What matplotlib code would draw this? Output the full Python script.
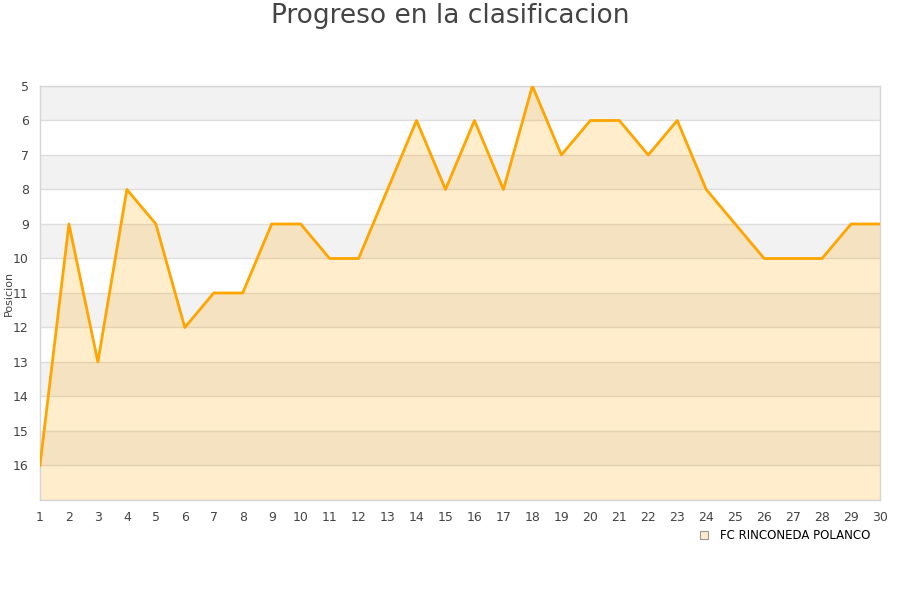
import matplotlib
matplotlib.use('Agg')
import matplotlib.pyplot as plt
from matplotlib.lines import Line2D

######################## DATA ########################
jornadas = list(range(1, 31))
posicion = [16, 9, 13, 8, 9, 12, 11, 11, 9, 9, 10, 10, 8, 6, 8,
            6, 8, 5, 7, 6, 6, 7, 6, 8, 9, 10, 10, 10, 9, 9]
equipo = 'FC RINCONEDA POLANCO'
titulo = 'Progreso en la clasificacion'
y_ticks = list(range(5, 17))

######################## CHART ########################
fig = plt.figure(figsize=(9, 6), dpi=100)
ax = fig.add_axes([0.0444, 0.1667, 0.9334, 0.69])

ymin, ymax = 5, 17
# alternating bands
for k in range(ymin, ymax, 2):
    ax.axhspan(k, k + 1, color='#f2f2f2', zorder=0, lw=0)
for k in range(ymin, ymax + 1):
    ax.axhline(k, color='#dddddd', lw=1, zorder=1)

ax.fill_between(jornadas, posicion, ymax, color='#FFA500', alpha=0.2, lw=0, zorder=2)
ax.plot(jornadas, posicion, color='#FFA500', lw=2, zorder=3)

ax.set_xlim(1, 30)
ax.set_ylim(ymax, ymin)
ax.set_xticks(jornadas)
ax.set_yticks(y_ticks)
ax.tick_params(axis='both', length=0, labelsize=9, colors='#444444', pad=8)
for s in ax.spines.values():
    s.set_color('#d6d6d6')
    s.set_linewidth(1)

ax.set_ylabel('Posicion', fontsize=8, color='#444444')
ax.yaxis.set_label_coords(-0.031, 0.5)
fig.text(0.5, 0.973, titulo, fontsize=19, color='#444444', ha='center', va='center')

handle = Line2D([], [], marker='s', ls='none', markersize=6,
                markerfacecolor='#FFEBCC', markeredgecolor='#999999', markeredgewidth=0.8)
fig.legend([handle], [equipo], loc='center', bbox_to_anchor=(0.868, 0.107),
           frameon=False, fontsize=8.5, handletextpad=0.3)

plt.savefig('out.png', dpi=100)
